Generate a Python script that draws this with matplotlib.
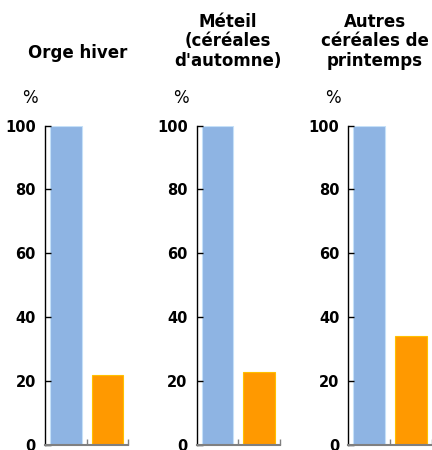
import matplotlib
matplotlib.use('Agg')
import matplotlib.pyplot as plt

titles = ['Orge hiver', 'Méteil\n(céréales\nd\'automne)', 'Autres\ncéréales de\nprintemps']
first_values = [100, 100, 100]
second_values = [22, 23, 34]
y_ticks = [0, 20, 40, 60, 80, 100]

BLUE = '#8EB4E3'
BLUE_EDGE = '#C5E0F8'
ORANGE = '#FF9900'
ORANGE_EDGE = '#FFC000'
GREY = '#808080'

W, H = 432, 450
plt.rcParams['font.family'] = ['DejaVu Sans']

fig = plt.figure(figsize=(W / 100, H / 100), dpi=100)

axes_left = [45, 196.7, 348.3]
title_x = [78, 228, 375]
axes_width = 83.3
axes_bottom = 445
axes_top = 125.5

for i in range(3):
    ax = fig.add_axes([axes_left[i] / W, 1 - axes_bottom / H,
                       axes_width / W, (axes_bottom - axes_top) / H])
    ax.bar([0, 1], [first_values[i], second_values[i]], width=0.76,
           color=[BLUE, ORANGE], edgecolor=[BLUE_EDGE, ORANGE_EDGE], linewidth=0.8)
    ax.set_xlim(-0.5, 1.5)
    ax.set_ylim(0, 100)
    ax.set_yticks(y_ticks)
    ax.set_yticklabels([str(t) for t in y_ticks], fontsize=10.5, fontweight='bold')
    ax.set_xticks([0.5, 1.5])
    ax.set_xticklabels([])
    ax.tick_params(axis='y', direction='in', length=4, width=1, color='black', pad=6.5)
    ax.tick_params(axis='x', direction='in', length=4, width=1, color=GREY)
    for side in ['top', 'right']:
        ax.spines[side].set_visible(False)
    ax.spines['left'].set_color('black')
    ax.spines['left'].set_linewidth(1)
    ax.spines['bottom'].set_color(GREY)
    ax.spines['bottom'].set_linewidth(1.5)
    ax.patch.set_alpha(0)

    fig.text(title_x[i] / W, 1 - (53 if i == 0 else 41.5) / H, titles[i],
             ha='center', va='center', fontsize=12, fontweight='bold', linespacing=1.08)
    fig.text((axes_left[i] - 15.5) / W, 1 - 98 / H, '%', ha='center', va='center', fontsize=12)

fig.savefig('out.png', dpi=100)
